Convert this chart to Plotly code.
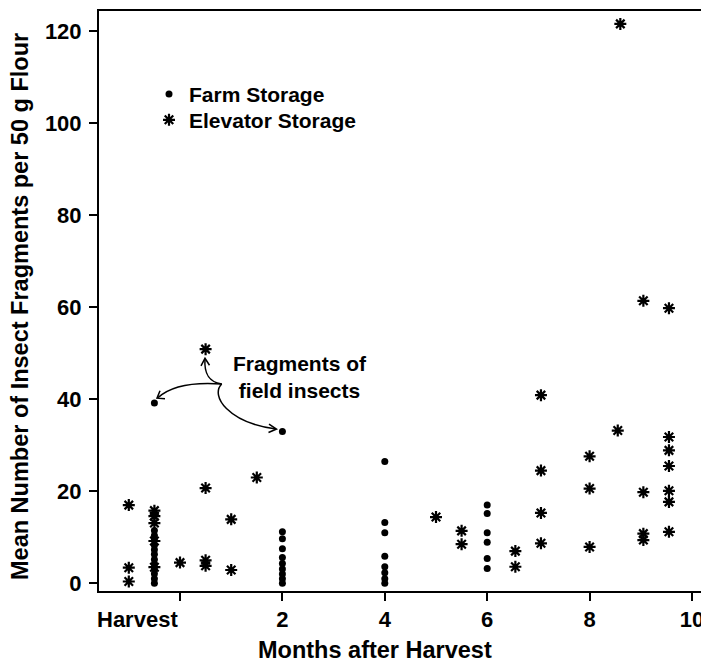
import plotly.graph_objects as go

# ---------------- data ----------------
farm_x = [-0.5] * 13 + [2] * 10 + [4] * 8 + [6] * 6
farm_y = [39.2, 11.5, 10.4, 9.4, 8.3, 7.3, 6.3, 5.2, 4.2, 3.1, 2.1, 1.0, 0.0,
          33.0, 11.2, 9.7, 7.5, 5.6, 4.3, 3.1, 2.0, 1.0, 0.0,
          26.5, 13.2, 11.0, 5.9, 3.6, 2.3, 1.0, 0.0,
          17.0, 15.2, 11.0, 8.9, 5.4, 3.2]

elev_x = ([-1.0] * 3 + [-0.5] * 5 + [0.0] + [0.5] * 4 + [1.0] * 2 + [1.5] + [5.0]
          + [5.5] * 2 + [6.55] * 2 + [7.05] * 4 + [8.0] * 3 + [8.55] + [8.6] + [9.05] * 4 + [9.55] * 7)
elev_y = [17.0, 3.4, 0.4,
          15.8, 14.6, 13.1, 9.2, 3.5,
          4.5,
          50.9, 20.7, 5.0, 3.8,
          13.9, 2.9,
          23.0,
          14.4,
          11.4, 8.5,
          7.0, 3.6,
          40.9, 24.5, 15.3, 8.7,
          27.6, 20.6, 7.9,
          33.2, 121.6,
          61.4, 19.8, 10.8, 9.4,
          59.8, 31.8, 28.9, 25.5, 20.1, 17.7, 11.2]

x_tickvals = [0, 2, 4, 6, 8, 10]
x_ticktext = ["", "2", "4", "6", "8", "10"]
y_tickvals = [0, 20, 40, 60, 80, 100, 120]

# ---------------- layout constants ----------------
W, H = 709, 667
OFF = 8                      # page body margin shift (design coords -> layout coords)
ML, MR, MT, MB = 91, 8, 1, 84
XR = [-1.582, 10.332]
YR = [-1.67, 124.4]
FONT = "Liberation Sans, Arial, sans-serif"


def r2paper(px, py):
    lx, ly = px - OFF, py - OFF
    pw = W - ML - MR
    ph = H - MT - MB
    return (lx - ML) / pw, 1 - (ly - MT) / ph


def r2data(px, py):
    fx, fy = r2paper(px, py)
    return XR[0] + fx * (XR[1] - XR[0]), YR[0] + fy * (YR[1] - YR[0])


def path_from_px(cmds):
    out = []
    for c, pts in cmds:
        out.append(c + " ".join("%.4f,%.4f" % r2data(*p) for p in pts))
    return " ".join(out)


def bold(size):
    return dict(family=FONT, size=size, color="black", weight="bold")


fig = go.Figure()

fig.add_trace(go.Scatter(
    x=farm_x, y=farm_y, mode="markers", name="Farm Storage", legend="legend",
    marker=dict(symbol="circle", size=7, color="black"),
))
fig.add_trace(go.Scatter(
    x=elev_x, y=elev_y, mode="markers", name="Elevator Storage", legend="legend2",
    marker=dict(symbol="asterisk-open", size=10, color="black",
                line=dict(color="black", width=2.2)),
))

# curved arrows (designed in reference pixel coords)
arrow_paths = [
    [("M", [(221.7, 383.3)]), ("C", [(208, 381), (204, 372), (205, 358)])],
    [("M", [(221.7, 383.3)]), ("C", [(190, 381), (170, 386), (158, 397)])],
    [("M", [(221.7, 383.3)]), ("C", [(210, 395), (228, 422), (276, 428.5)])],
    [("M", [(201, 365)]), ("L", [(205, 357.5)]), ("L", [(209.5, 364.5)])],
    [("M", [(160, 390)]), ("L", [(157, 397.5)]), ("L", [(165, 398)])],
    [("M", [(269, 423.5)]), ("L", [(276.5, 428.5)]), ("L", [(268.5, 432)])],
]
for p in arrow_paths:
    fig.add_shape(type="path", xref="x", yref="y", path=path_from_px(p),
                  line=dict(color="black", width=1.5))

ax, ay = r2paper(300, 376)
fig.add_annotation(x=ax, y=ay, xref="paper", yref="paper",
                   text="Fragments of<br>field insects", showarrow=False,
                   font=bold(21), align="center", xanchor="center", yanchor="middle")

hx, hy = r2paper(137, 620)
fig.add_annotation(x=hx, y=hy, xref="paper", yref="paper", text="Harvest",
                   showarrow=False, xanchor="center", yanchor="middle", font=bold(22))

tx, ty = r2paper(375, 650)
fig.add_annotation(x=tx, y=ty, xref="paper", yref="paper", text="Months after Harvest",
                   showarrow=False, xanchor="center", yanchor="middle", font=bold(23.5))

vx, vy = r2paper(20, 306)
fig.add_annotation(x=vx, y=vy, xref="paper", yref="paper",
                   text="Mean Number of Insect Fragments per 50 g Flour",
                   textangle=-90, showarrow=False, xanchor="center", yanchor="middle",
                   font=bold(23.5))

l1x, l1y = r2paper(149, 72)
l2x, l2y = r2paper(149, 98)

axis_common = dict(
    showgrid=False, zeroline=False,
    showline=True, linecolor="black", linewidth=2, mirror=True,
    ticks="outside", ticklen=8, tickwidth=1.5, tickcolor="black",
    tickfont=bold(22),
)

fig.update_layout(
    width=W, height=H,
    margin=dict(l=ML, r=MR, t=MT, b=MB, pad=0),
    paper_bgcolor="white", plot_bgcolor="white",
    font=dict(family=FONT, color="black"),
    showlegend=True,
    legend=dict(x=l1x, y=l1y, xanchor="left", yanchor="top",
                bgcolor="rgba(0,0,0,0)", font=bold(21)),
    legend2=dict(x=l2x, y=l2y, xanchor="left", yanchor="top",
                 bgcolor="rgba(0,0,0,0)", font=bold(21)),
    xaxis=dict(range=XR, tickvals=x_tickvals, ticktext=x_ticktext, **axis_common),
    yaxis=dict(range=YR, tickvals=y_tickvals, ticklabelstandoff=3, **axis_common),
)

fig.write_html("out.html")
